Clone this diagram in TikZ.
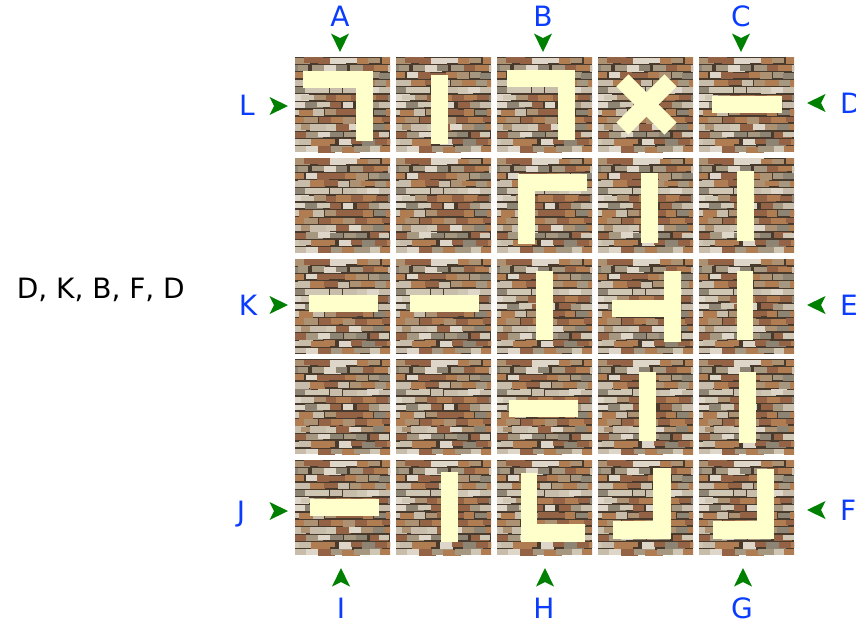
\documentclass[tikz,border=0pt]{standalone}
\usepackage{fontspec}
\setmainfont{DejaVu Sans}
\usetikzlibrary{matrix}

\definecolor{labelblue}{RGB}{10,60,255}
\definecolor{gategreen}{RGB}{0,128,0}
\definecolor{barcol}{RGB}{255,255,204}
\definecolor{mortar}{RGB}{72,58,45}
\definecolor{stone1}{RGB}{200,188,170}
\definecolor{stone2}{RGB}{172,146,114}
\definecolor{stone3}{RGB}{176,124,82}
\definecolor{stone4}{RGB}{148,98,68}
\definecolor{stone5}{RGB}{222,214,200}
\definecolor{stone6}{RGB}{142,132,116}
\definecolor{stone7}{RGB}{208,198,180}
\definecolor{stone8}{RGB}{166,151,129}

\begin{document}
\begin{tikzpicture}[
  x=1pt,y=-1pt,
  font=\fontsize{28}{34}\selectfont,
  tile/.style={minimum size=95pt,inner sep=0pt,outer sep=0pt},
  bar/.style={fill=barcol},
  lbl/.style={text=labelblue,inner sep=0pt,anchor=base},
  lblr/.style={lbl,anchor=base west},
  gate/.pic={\fill[gategreen] (0,0) -- (-18.5,-9) -- (-14,0) -- (-18.5,9) -- cycle;},
  wall/.pic={
    \clip (0,0) rectangle (95,95);
    \fill[mortar] (0,0) rectangle (95,95);
    \pgfmathsetseed{23}
    \foreach \r in {0,...,12}{
      \foreach \k in {0,...,8}{
        \pgfmathsetmacro\xx{\k*12.5-mod(\r,2)*6-rnd*4}
        \pgfmathsetmacro\ww{10+rnd*12}
        \pgfmathsetmacro\hh{5.3+rnd*1.4}
        \pgfmathrandominteger{\cc}{1}{8}
        \ifnum\r=8 \pgfmathrandominteger{\cc}{2}{4}\fi
        \ifnum\r=0 \pgfmathrandominteger{\cc}{2}{5}\fi
        \fill[stone\cc] (\xx,\r*7.4+0.4+rnd*0.5) rectangle ++(\ww,\hh);
      }
    }
  }
]
\useasboundingbox[fill=white] (0,0) rectangle (856,622);

% the 5x5 board
\matrix (g) [matrix of nodes, nodes in empty cells, nodes={tile},
  column sep=6pt, row sep=5.75pt, inner sep=0pt, outer sep=0pt,
  anchor=north west] at (295,57) {
  &&&&\\
  &&&&\\
  &&&&\\
  &&&&\\
  &&&&\\
};
\foreach \r in {1,...,5}
  \foreach \c in {1,...,5}
    \pic at (g-\r-\c.north west) {wall};

% row 1
\fill[bar] ([shift={(8,14)}]g-1-1.north west) rectangle ++(70,17);
\fill[bar] ([shift={(61,14)}]g-1-1.north west) rectangle ++(17,70);
\fill[bar] ([shift={(35,17.5)}]g-1-2.north west) rectangle ++(17,69);
\fill[bar] ([shift={(10,13)}]g-1-3.north west) rectangle ++(68,17);
\fill[bar] ([shift={(61,13)}]g-1-3.north west) rectangle ++(17,70);
\begin{scope}[shift={(g-1-4.center)},xshift=1pt]
  \fill[bar,rotate=45] (-34,-8.5) rectangle (34,8.5);
  \fill[bar,rotate=-45] (-34,-8.5) rectangle (34,8.5);
\end{scope}
\fill[bar] ([shift={(12.7,39.3)}]g-1-5.north west) rectangle ++(70,17);
% row 2
\fill[bar] ([shift={(21.3,16)}]g-2-3.north west) rectangle ++(68.4,17);
\fill[bar] ([shift={(21.3,16)}]g-2-3.north west) rectangle ++(17,70);
\fill[bar] ([shift={(43,15.3)}]g-2-4.north west) rectangle ++(17,70);
\fill[bar] ([shift={(38.3,13.5)}]g-2-5.north west) rectangle ++(17,70);
% row 3
\fill[bar] ([shift={(14,36.5)}]g-3-1.north west) rectangle ++(69.3,17);
\fill[bar] ([shift={(14,36.5)}]g-3-2.north west) rectangle ++(69.3,17);
\fill[bar] ([shift={(39,12.2)}]g-3-3.north west) rectangle ++(17,69.3);
\fill[bar] ([shift={(13.7,41.2)}]g-3-4.north west) rectangle ++(69,17.6);
\fill[bar] ([shift={(66,12.8)}]g-3-4.north west) rectangle ++(16.7,70.4);
\fill[bar] ([shift={(37.7,12.2)}]g-3-5.north west) rectangle ++(16.7,69.3);
% row 4
\fill[bar] ([shift={(12,40.8)}]g-4-3.north west) rectangle ++(69.3,17.3);
\fill[bar] ([shift={(41,12.5)}]g-4-4.north west) rectangle ++(17,69.3);
\fill[bar] ([shift={(40,13)}]g-4-5.north west) rectangle ++(17,70.4);
% row 5
\fill[bar] ([shift={(15,38.7)}]g-5-1.north west) rectangle ++(69.3,17.3);
\fill[bar] ([shift={(45,12)}]g-5-2.north west) rectangle ++(16.7,70);
\fill[bar] ([shift={(23.7,12.7)}]g-5-3.north west) rectangle ++(16.6,69.3);
\fill[bar] ([shift={(23.7,64.3)}]g-5-3.north west) rectangle ++(64.3,17.7);
\fill[bar] ([shift={(55.3,7.7)}]g-5-4.north west) rectangle ++(17.4,71);
\fill[bar] ([shift={(14.7,61)}]g-5-4.north west) rectangle ++(58,17.7);
\fill[bar] ([shift={(57.7,8.7)}]g-5-5.north west) rectangle ++(17.3,70);
\fill[bar] ([shift={(13.7,61)}]g-5-5.north west) rectangle ++(61.3,17.7);

% entry gates
\foreach \x in {340,543,741} \pic[rotate=-90] at (\x,52) {gate};
\foreach \x in {341,545,743} \pic[rotate=90] at (\x,568) {gate};
\foreach \y in {106,305,511} \pic at (288,\y) {gate};
\foreach \y in {103,305,510} \pic[rotate=180] at (807,\y) {gate};

% gate letters
\foreach \t/\x/\y in {A/340/26.7, B/543/26.7, C/741/26.7,
                      L/247/115.3, K/248/315.2, J/241/521.2,
                      I/341/618.5, H/544/618.5, G/742/618.5}
  \node[lbl] (lab-\t) at (\x,\y) {\t};
\foreach \t/\y in {D/113.5, E/315.2, F/520.2}
  \node[lblr] (lab-\t) at (840,\y) {\t};

\node[anchor=base,inner sep=0pt] (seq) at (100.8,298) {D, K, B, F, D};
\end{tikzpicture}
\end{document}
